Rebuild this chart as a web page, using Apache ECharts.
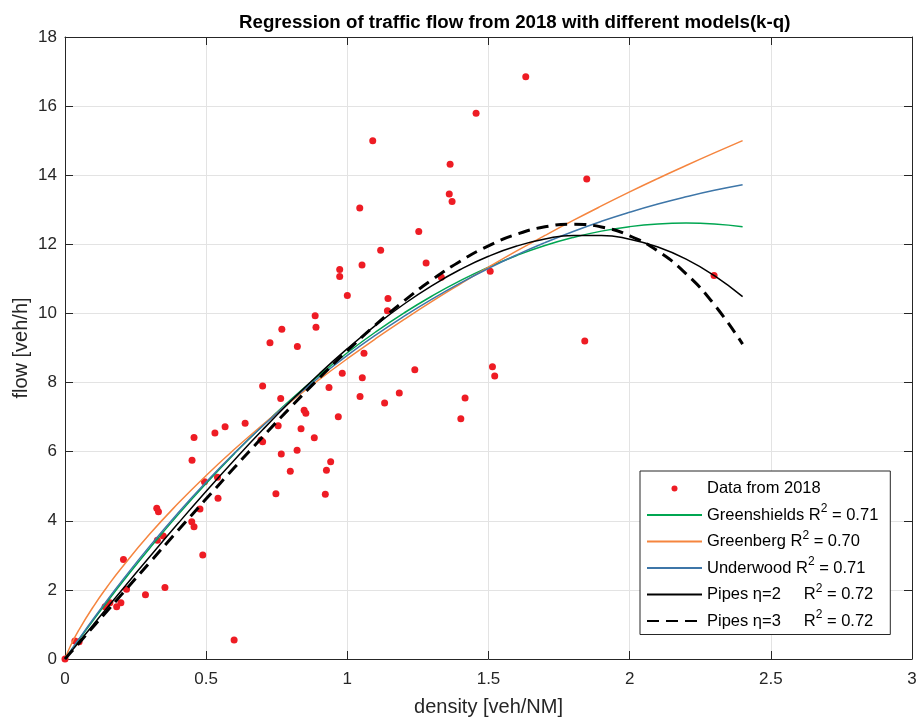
<!DOCTYPE html>
<html>
<head>
<meta charset="utf-8">
<title>Traffic flow regression 2018</title>
<script src="https://cdn.jsdelivr.net/npm/echarts@6/dist/echarts.min.js"></script>
<style>
  html, body { margin: 0; padding: 0; background: #ffffff; }
  #chart { width: 921px; height: 718px; }
</style>
</head>
<body>
<div id="chart"></div>
<script>
// Observed 2018 samples: density [veh/NM] and flow [veh/h]
const density = [
  0, 0.035, 0.05, 0.142, 0.159, 0.183, 0.198, 0.218, 0.207, 0.285,
  0.354, 0.325, 0.331, 0.327, 0.348, 0.449, 0.457, 0.478, 0.488, 0.450,
  0.457, 0.494, 0.540, 0.542, 0.531, 0.567, 0.638, 0.599, 0.700, 0.726,
  0.768, 0.823, 0.764, 0.694, 0.700, 0.755, 0.836, 0.847, 0.853, 0.883,
  0.766, 0.822, 0.798, 0.747, 0.886, 0.889, 0.935, 0.941, 0.926, 0.922,
  0.968, 0.982, 0.973, 0.973, 1.000, 1.044, 1.052, 1.090, 1.118, 1.045,
  1.053, 1.059, 1.132, 1.142, 1.144, 1.184, 1.239, 1.253, 1.279, 1.333,
  1.361, 1.371, 1.364, 1.402, 1.417, 1.456, 1.506, 1.514, 1.522, 1.632,
  1.841, 1.848, 2.299
];
const flow = [
  0, 0.52, 0.50, 1.51, 1.63, 1.51, 1.63, 2.02, 2.88, 1.86,
  2.07, 4.36, 4.26, 3.44, 3.56, 3.97, 3.83, 4.34, 3.01, 5.75,
  6.41, 5.13, 5.26, 4.65, 6.54, 6.72, 6.82, 0.55, 7.90, 9.15,
  9.54, 9.04, 7.54, 6.34, 6.29, 6.75, 6.66, 7.20, 7.11, 6.40,
  5.93, 6.04, 5.43, 4.78, 9.93, 9.60, 7.86, 5.71, 5.46, 4.77,
  7.01, 8.27, 11.27, 11.07, 10.52, 13.05, 11.40, 15.00, 11.83, 7.60,
  8.14, 8.85, 7.41, 10.08, 10.43, 7.70, 8.37, 12.37, 11.46, 11.05,
  13.46, 13.24, 14.32, 6.95, 7.55, 15.79, 11.22, 8.46, 8.19, 16.85,
  9.20, 13.89, 11.10
];

// Density grid on which the fitted model curves are drawn
const curveDensity = [
  0, 0.02, 0.05, 0.1, 0.15, 0.2, 0.3, 0.4, 0.5, 0.6, 0.7, 0.8, 0.9, 1.0,
  1.1, 1.2, 1.3, 1.4, 1.5, 1.6, 1.7, 1.8, 1.9, 2.0, 2.1, 2.2, 2.3, 2.4
];
const greenshields = [
  0, 0.228, 0.567, 1.121, 1.662, 2.190, 3.206, 4.171, 5.083, 5.944, 6.752, 7.508, 8.211, 8.863,
  9.463, 10.010, 10.505, 10.948, 11.339, 11.678, 11.965, 12.199, 12.382, 12.512, 12.590, 12.616, 12.590, 12.512
];
const greenberg = [
  0, 0.392, 0.852, 1.511, 2.097, 2.635, 3.614, 4.497, 5.311, 6.068, 6.779, 7.449, 8.084, 8.690,
  9.268, 9.819, 10.348, 10.851, 11.338, 11.808, 12.257, 12.692, 13.111, 13.517, 13.906, 14.280, 14.647, 15.003
];
const underwood = [
  0, 0.237, 0.588, 1.158, 1.710, 2.246, 3.267, 4.224, 5.121, 5.960, 6.743, 7.474, 8.154, 8.787,
  9.373, 9.915, 10.417, 10.880, 11.305, 11.694, 12.049, 12.373, 12.666, 12.929, 13.166, 13.376, 13.563, 13.724
];
const pipes2 = [
  0, 0.199, 0.497, 0.994, 1.489, 1.982, 2.959, 3.918, 4.854, 5.761, 6.633, 7.464, 8.249, 8.981,
  9.655, 10.266, 10.806, 11.271, 11.655, 11.951, 12.154, 12.259, 12.259, 12.148, 11.921, 11.572, 11.095, 10.485
];
const pipes3 = [
  0, 0.186, 0.466, 0.932, 1.398, 1.863, 2.793, 3.718, 4.635, 5.540, 6.428, 7.292, 8.126, 8.921,
  9.667, 10.356, 10.975, 11.513, 11.958, 12.294, 12.507, 12.582, 12.502, 12.248, 11.802, 11.147, 10.253, 9.113
];

// Legend texts and goodness of fit
const seriesNames = ['Data from 2018', 'Greenshields', 'Greenberg', 'Underwood', 'Pipes η=2', 'Pipes η=3'];
const rSquared = [null, '0.71', '0.70', '0.71', '0.72', '0.72'];

// Axis ticks
const xTicks = [0, 0.5, 1, 1.5, 2, 2.5, 3];
const yTicks = [0, 2, 4, 6, 8, 10, 12, 14, 16, 18];

const FONT = "'Liberation Sans', Arial, Helvetica, sans-serif";
const AXIS_COLOR = '#262626';

const zip = (xs, ys) => xs.map((x, i) => [x, ys[i]]);

const chart = echarts.init(document.getElementById('chart'), null, { renderer: 'canvas' });

function valueAxis(ticks, pos, extra) {
  return Object.assign({
    type: 'value',
    position: pos,
    min: ticks[0],
    max: ticks[ticks.length - 1],
    interval: ticks[1] - ticks[0],
    axisLine: { show: true, onZero: false, lineStyle: { color: AXIS_COLOR, width: 1 } },
    axisTick: { show: true, inside: true, length: 8, lineStyle: { color: AXIS_COLOR, width: 1 } },
    splitLine: { show: false },
    axisLabel: { show: false }
  }, extra);
}

const labelStyle = { show: true, color: AXIS_COLOR, fontSize: 17, fontFamily: FONT };
const gridLine = { show: true, lineStyle: { color: '#e3e3e3', width: 1 } };

const lineSeries = (name, values, color, width, type) => ({
  name: name,
  type: 'line',
  data: zip(curveDensity, values),
  showSymbol: false,
  symbol: 'none',
  smooth: true,
  lineStyle: { color: color, width: width, type: type || 'solid' },
  itemStyle: { color: color },
  emphasis: { disabled: true },
  silent: true,
  animation: false
});

// Line entries in the legend show only the stroke, no marker
const lineLegendItem = name => ({ name: name, itemStyle: { opacity: 0 } });

const option = {
  animation: false,
  backgroundColor: '#ffffff',
  title: {
    text: 'Regression of traffic flow from 2018 with different models(k-q)',
    left: 234,
    top: 8,
    textStyle: { fontFamily: FONT, fontSize: 18.7, fontWeight: 'bold', color: '#000000' }
  },
  grid: { left: 65, right: 9, top: 37, bottom: 59, containLabel: false, outerBoundsMode: 'none' },
  xAxis: [
    valueAxis(xTicks, 'bottom', {
      name: 'density [veh/NM]',
      nameLocation: 'middle',
      nameGap: 38,
      nameTextStyle: { fontFamily: FONT, fontSize: 20, color: AXIS_COLOR },
      axisLabel: Object.assign({ margin: 12 }, labelStyle),
      splitLine: gridLine
    }),
    valueAxis(xTicks, 'top', {})
  ],
  yAxis: [
    valueAxis(yTicks, 'left', {
      name: 'flow [veh/h]',
      nameLocation: 'middle',
      nameGap: 34,
      nameMoveOverlap: false,
      nameTextStyle: { fontFamily: FONT, fontSize: 20, color: AXIS_COLOR },
      axisLabel: Object.assign({ margin: 8 }, labelStyle),
      splitLine: gridLine
    }),
    valueAxis(yTicks, 'right', {})
  ],
  legend: {
    orient: 'vertical',
    left: 640,
    top: 471,
    padding: [9, 12, 5, 6],
    itemGap: 6,
    itemWidth: 55,
    itemHeight: 6,
    backgroundColor: '#ffffff',
    borderColor: AXIS_COLOR,
    borderWidth: 1,
    borderRadius: 0,
    selectedMode: false,
    data: [
      { name: seriesNames[0], icon: 'circle' },
      lineLegendItem(seriesNames[1]),
      lineLegendItem(seriesNames[2]),
      lineLegendItem(seriesNames[3]),
      lineLegendItem(seriesNames[4]),
      lineLegendItem(seriesNames[5])
    ],
    formatter: function (name) {
      const i = seriesNames.indexOf(name);
      if (rSquared[i] === null) return '{t|' + name + '}';
      const pad = name.indexOf('Pipes') === 0 ? '     ' : ' ';
      return '{t|' + name + pad + 'R}{sup|2}{t| = ' + rSquared[i] + '}';
    },
    textStyle: {
      fontFamily: FONT,
      fontSize: 16.5,
      color: '#000000',
      rich: {
        t: { fontFamily: FONT, fontSize: 16.5, color: '#000000', lineHeight: 24, verticalAlign: 'middle' },
        sup: { fontFamily: FONT, fontSize: 12, color: '#000000', lineHeight: 10, verticalAlign: 'top' }
      }
    }
  },
  series: [
    {
      name: seriesNames[0],
      type: 'scatter',
      data: zip(density, flow),
      symbol: 'circle',
      symbolSize: 7,
      itemStyle: { color: '#ee1c24', opacity: 1, borderWidth: 0 },
      emphasis: { disabled: true },
      silent: true
    },
    lineSeries(seriesNames[1], greenshields, '#00a651', 1.5),
    lineSeries(seriesNames[2], greenberg, '#f5853f', 1.5),
    lineSeries(seriesNames[3], underwood, '#3e76a8', 1.5),
    lineSeries(seriesNames[4], pipes2, '#000000', 1.5),
    lineSeries(seriesNames[5], pipes3, '#000000', 3, [12, 7])
  ]
};

chart.setOption(option);
</script>
</body>
</html>
